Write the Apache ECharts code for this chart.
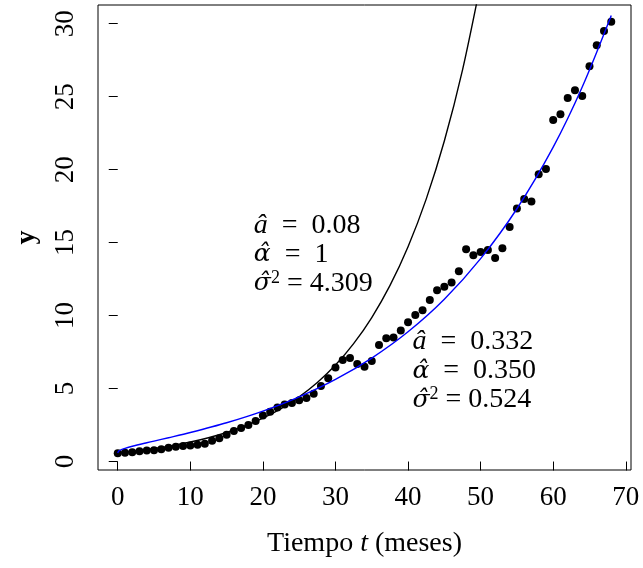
<!DOCTYPE html>
<html><head><meta charset="utf-8">
<script src="https://cdn.jsdelivr.net/npm/echarts@6/dist/echarts.min.js"></script>
<style>html,body{margin:0;padding:0;background:#fff}#c{width:643px;height:568px}</style>
</head><body><div id="c"></div>
<script>
// ---- data ----
const months = [0,1,2,3,4,5,6,7,8,9,10,11,12,13,14,15,16,17,18,19,20,21,22,23,24,25,26,27,28,29,30,31,32,33,34,35,36,37,38,39,40,41,42,43,44,45,46,47,48,49,50,51,52,53,54,55,56,57,58,59,60,61,62,63,64,65,66,67,68];
const observed = [0.57,0.60,0.63,0.70,0.76,0.78,0.85,0.94,1.01,1.06,1.10,1.15,1.21,1.43,1.60,1.84,2.10,2.30,2.50,2.77,3.15,3.41,3.70,3.90,4.01,4.20,4.35,4.64,5.17,5.70,6.45,6.96,7.09,6.68,6.50,6.89,7.98,8.44,8.49,8.97,9.54,10.04,10.36,11.07,11.73,11.98,12.26,13.04,14.54,14.13,14.36,14.50,13.95,14.62,16.07,17.33,17.99,17.81,19.68,20.05,23.40,23.80,24.90,25.44,25.05,27.09,28.53,29.50,30.14];
// black fitted curve (a=0.08, alpha=1)
const curveExpT = [0,2.5,5,7.5,10,12.5,15,17.5,20,22.5,25,27.5,30,32.5,35,37.5,40,42.5,45,47.5,50];
const curveExpY = [0.600,0.733,0.895,1.093,1.335,1.631,1.992,2.433,2.972,3.630,4.434,5.416,6.614,8.079,9.868,12.05,14.72,17.98,21.96,26.82,32.76];
// blue fitted curve (a=0.332, alpha=0.350)
const curveMLT = [0,0.1,0.25,0.5,1,2,4,5,7,10,15,20,25,30,35,40,45,50,55,60,64,68];
const curveMLY = [0.587,0.701,0.755,0.815,0.906,1.047,1.287,1.401,1.630,1.987,2.656,3.455,4.429,5.623,7.09,8.89,11.12,13.90,17.32,21.54,25.66,30.56];
const xTicks = [0,10,20,30,40,50,60,70];
const yTicks = [0,5,10,15,20,25,30];
const xTitleParts = ['Tiempo ', 't', ' (meses)'];
const yTitle = 'y';
const annotExp = [['â', '0.08', ''], ['α̂', '1', ''], ['σ̂', '4.309', '2']];
const annotML = [['â', '0.332', ''], ['α̂', '0.350', ''], ['σ̂', '0.524', '2']];

// ---- chart ----
const FONT = '"Liberation Serif", "DejaVu Serif", serif';
const GREEK = '"DejaVu Serif", serif';
const FS = 27;
const AFS = 28;
const chart = echarts.init(document.getElementById('c'), null, {renderer: 'canvas'});
const zip = (a, b) => a.map((v, i) => [v, b[i]]);
const annotText = lines => lines.map(l => {
  const sym = (l[0] === 'â') ? '{i|â}' : '{g|' + l[0] + '}';
  const sup = l[2] ? '{s|' + l[2] + '}' : '';
  const sp = l[2] ? '\u2005' : '\u2002';
  return sym + sup + '{n|' + sp + '=' + sp + l[1] + '}';
}).join('\n');
const rich = {
  i: {fontFamily: FONT, fontStyle: 'italic', fontSize: AFS, color: '#000', lineHeight: 29},
  g: {fontFamily: GREEK, fontStyle: 'italic', fontSize: AFS - 3, color: '#000', lineHeight: 29},
  s: {fontFamily: FONT, fontSize: 18, color: '#000', lineHeight: 29, verticalAlign: 'top', padding: [0, 0, 8, 0]},
  n: {fontFamily: FONT, fontSize: AFS, color: '#000', lineHeight: 29}
};
const titleRich = {
  i: {fontFamily: FONT, fontStyle: 'italic', fontSize: 28, color: '#000'},
  n: {fontFamily: FONT, fontSize: 28, color: '#000'}
};

chart.setOption({
  animation: false,
  backgroundColor: '#fff',
  grid: {left: 98, right: 12, top: 5, bottom: 98, containLabel: false, show: true,
         borderColor: '#000', borderWidth: 1, backgroundColor: 'transparent'},
  xAxis: {
    type: 'value', min: -2.72, max: 70.72,
    splitLine: {show: false},
    axisLine: {show: false},
    axisTick: {show: true, length: 9, lineStyle: {color: '#000'}, customValues: xTicks},
    axisLabel: {customValues: xTicks, color: '#000', fontFamily: FONT, fontSize: FS, margin: 14},
    name: xTitleParts.map((p, i) => i === 1 ? '{i|' + p + '}' : '{n|' + p + '}').join(''),
    nameLocation: 'middle', nameGap: 60,
    nameTextStyle: {rich: titleRich, fontFamily: FONT, fontSize: 28}
  },
  yAxis: {
    type: 'value', min: -0.58, max: 31.28,
    splitLine: {show: false},
    axisLine: {show: false},
    axisTick: {show: true, length: 9, lineStyle: {color: '#000'}, customValues: yTicks},
    axisLabel: {customValues: yTicks, color: '#000', fontFamily: FONT, fontSize: FS, rotate: 90, margin: 19},
    name: yTitle, nameLocation: 'middle', nameGap: 57,
    nameTextStyle: {fontFamily: FONT, fontSize: 28, fontWeight: 'bold', color: '#000'}
  },
  series: [
    {type: 'scatter', name: 'observed', data: zip(months, observed), symbol: 'circle', symbolSize: 8,
     itemStyle: {color: '#000', opacity: 1}, z: 2},
    {type: 'line', name: 'a=0.08', data: zip(curveExpT, curveExpY), smooth: 0.3,
     showSymbol: false, clip: true, lineStyle: {color: '#000', width: 1.4}, z: 3},
    {type: 'line', name: 'a=0.332', data: zip(curveMLT, curveMLY), smooth: 0.3,
     showSymbol: false, clip: true, lineStyle: {color: '#0000ff', width: 1.4}, z: 3},
    {type: 'scatter', silent: true, symbolSize: 0, z: 4, itemStyle: {opacity: 1},
     data: [
       {value: [18.75, 14.2], label: {formatter: annotText(annotExp)}},
       {value: [40.6, 6.2], label: {formatter: annotText(annotML)}}
     ],
     label: {show: true, position: 'inside', align: 'left', verticalAlign: 'middle', color: '#000', rich: rich}}
  ]
});
</script>
</body></html>
